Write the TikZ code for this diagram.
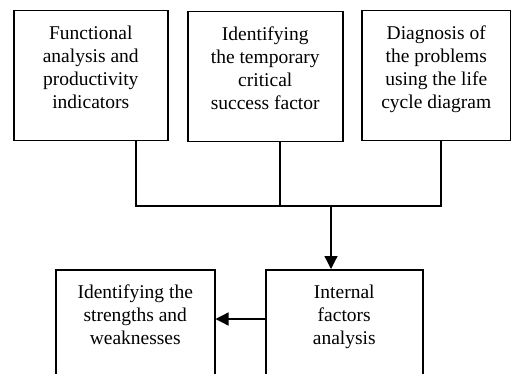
\documentclass[tikz,border=0pt]{standalone}
\usepackage{fontspec}
\setmainfont{Liberation Serif}
\usetikzlibrary{arrows.meta}

\begin{document}
\begin{tikzpicture}[x=1pt, y=-1pt,
	box/.style={draw, line width=1.5pt, rectangle, inner sep=0pt, anchor=north west},
	txt/.style={align=center, inner sep=0pt, anchor=north, font=\fontsize{19.5}{23}\selectfont},
	link/.style={line width=1.3pt},
	arr/.style={line width=1.3pt, -{Triangle[length=13pt, width=13pt]}}]
	\useasboundingbox (0,0) rectangle (511,374);
	\clip (0,0) rectangle (511,374);

	% top row
	\node[box, minimum width=154pt, minimum height=130pt] (fa) at (13,10) {};
	\node[txt] (fatext) at ([yshift=-16pt]fa.north) {Functional\\analysis and\\productivity\\indicators};

	\node[box, minimum width=155pt, minimum height=130pt] (csf) at (187,11) {};
	\node[txt] (csftext) at ([yshift=-16pt]csf.north) {Identifying\\the temporary\\critical\\success factor};

	\node[box, minimum width=149pt, minimum height=130pt] (lc) at (361,10) {};
	\node[txt] (lctext) at ([yshift=-16pt]lc.north) {Diagnosis of\\the problems\\using the life\\cycle diagram};

	% bottom row, cut by the page
	\node[box, minimum width=157pt, minimum height=120pt] (ifa) at (265,269) {};
	\node[txt] (ifatext) at ([yshift=-16pt]ifa.north) {Internal\\factors\\analysis};

	\node[box, minimum width=159pt, minimum height=120pt] (sw) at (55,269) {};
	\node[txt] (swtext) at ([yshift=-16pt]sw.north) {Identifying the\\strengths and\\weaknesses};

	% joining line
	\coordinate (j1) at (136,206);
	\coordinate (j2) at (280,206);
	\coordinate (j3) at (441,206);
	\coordinate (jm) at (331,206);
	\draw[link] (fa.south -| j1) -- (j1) -- (j3) -- (lc.south -| j3);
	\draw[link] (csf.south -| j2) -- (j2);

	% arrows
	\draw[arr] (jm) -- (ifa.north -| jm);
	\coordinate (side) at (265,319);
	\draw[arr] (side) -- (sw.east |- side);
\end{tikzpicture}
\end{document}
